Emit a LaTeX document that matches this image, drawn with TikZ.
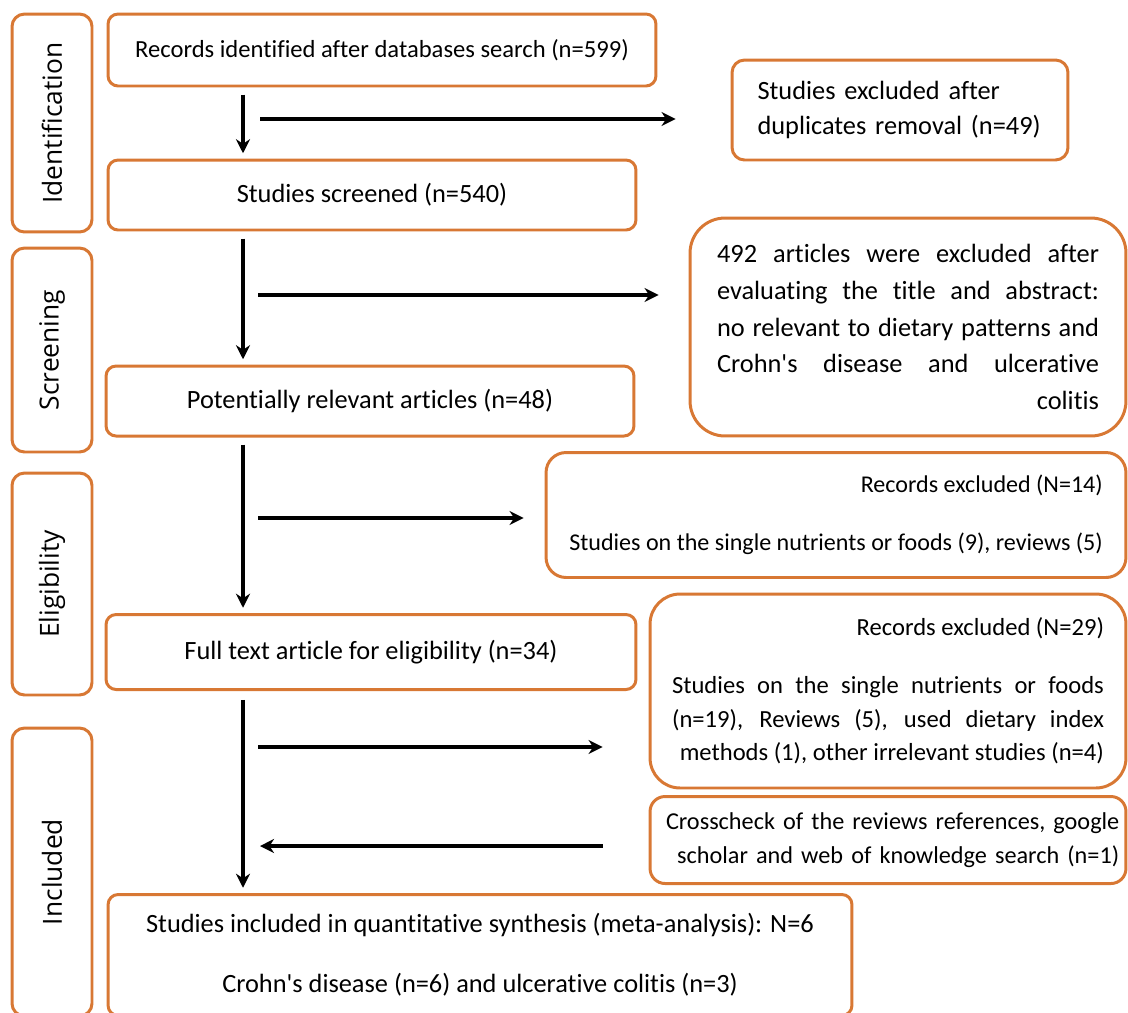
\documentclass[tikz,border=0pt]{standalone}
\usepackage{fontspec}
\setmainfont{Carlito}[Ligatures={NoCommon}]
\newfontfamily\stagefont{Open Sans}
\usetikzlibrary{arrows.meta, calc}
\definecolor{prismaorange}{RGB}{216,120,52}
\tikzstyle{stage} = [rectangle, rounded corners=0.25cm, draw=prismaorange, line width=1.7pt, rotate=90, minimum height=1.6cm, font=\stagefont\fontsize{15}{18}\selectfont]
\tikzstyle{flow} = [rectangle, rounded corners=0.2cm, draw=prismaorange, line width=1.7pt, minimum width=10.56cm, minimum height=1.4cm, font=\fontsize{15}{18}\selectfont]
\tikzstyle{excl} = [rectangle, rounded corners=0.4cm, draw=prismaorange, line width=1.7pt, font=\fontsize{14}{19}\selectfont]
\tikzstyle{arrow} = [line width=1.9pt,->,>={Stealth[length=8pt,width=8pt]}]
\newcommand{\apos}{\textquotesingle}

\begin{document}
\begin{tikzpicture}[x=0.02cm, y=-0.02cm]
\useasboundingbox (0,0) rectangle (1128,1012);

% Stage labels
\node (ident) [stage, minimum width=4.36cm] at (52,123) {Identification};
\node (screen) [stage, minimum width=4.08cm] at (52,350) {Screening};
\node (elig) [stage, minimum width=4.44cm] at (52,584) {Eligibility};
\node (incl) [stage, minimum width=5.76cm] at (52,872) {Included};

% Main flow
\node (records) [flow, minimum width=10.96cm, minimum height=1.44cm, font=\fontsize{14}{17}\selectfont] at (382,50) {Records identified after databases search (n=599)};
\node (screened) [flow] at (372,195) {Studies screened (n=540)};
\node (relevant) [flow] at (370,401) {Potentially relevant articles (n=48)};
\node (fulltext) [flow, minimum width=10.6cm, minimum height=1.5cm] at (371,652) {Full text article for eligibility (n=34)};
\node (included) [flow, minimum width=14.88cm, minimum height=2.42cm, align=center] at (480,955) {Studies included in quantitative synthesis (meta-analysis): N=6\\[16pt]Crohn\apos s disease (n=6) and ulcerative colitis (n=3)};

% Exclusions
\node (dupl) [excl, rounded corners=0.25cm, minimum width=6.72cm, minimum height=2cm, text width=5.7cm, align=left, font=\fontsize{15}{20}\selectfont] at (900,110) {Studies excluded after\\duplicates removal (n=49)};
\node (titleabs) [excl, rounded corners=0.7cm, minimum width=8.72cm, minimum height=4.36cm, text width=7.64cm, align=justify, font=\fontsize{15}{21}\selectfont] at (908,327) {492 articles were excluded after\linebreak evaluating the title and abstract:\linebreak no relevant to dietary patterns and\linebreak Crohn\apos s disease and ulcerative\linebreak\hspace*{\fill}colitis};
\node (single) [excl, minimum width=11.6cm, minimum height=2.5cm, align=right, font=\fontsize{13.7}{19}\selectfont] at (836,515) {Records excluded (N=14)\\[14pt]Studies on the single nutrients or foods (9), reviews (5)};
\node (other) [excl, rounded corners=0.6cm, minimum width=9.52cm, minimum height=3.88cm, text width=8.64cm, align=justify] at (888,691) {\hspace*{\fill}Records excluded (N=29)\par\vspace{14pt}Studies on the single nutrients or foods\linebreak (n=19), Reviews (5), used dietary index\linebreak\hspace*{\fill}methods (1), other irrelevant studies (n=4)};
\node (cross) [excl, rounded corners=0.3cm, minimum width=9.52cm, minimum height=1.74cm, text width=9.25cm, align=right, font=\fontsize{13.8}{19}\selectfont] at (888,840) {Crosscheck of the reviews references, google\\scholar and web of knowledge search (n=1)};

% Arrows
\coordinate (spine) at (243,0);
\draw [arrow, shorten <=4pt, shorten >=3pt] (records.south -| spine) -- (screened.north -| spine);
\draw [arrow, shorten <=4pt, shorten >=3pt] (screened.south -| spine) -- (relevant.north -| spine);
\draw [arrow, shorten <=4pt, shorten >=3pt] (relevant.south -| spine) -- (fulltext.north -| spine);
\draw [arrow, shorten <=5pt, shorten >=3pt] (fulltext.south -| spine) -- (included.north -| spine);

\coordinate (h1) at (260,119);
\coordinate (h2) at (258,295);
\coordinate (h3) at (258,518);
\coordinate (h4) at (258,747);
\coordinate (h5) at (260,846);
\draw [arrow, shorten >=1.1cm] (h1) -- (h1 -| dupl.west);
\draw [arrow, shorten >=0.6cm] (h2) -- (h2 -| titleabs.west);
\draw [arrow, shorten >=0.42cm] (h3) -- (h3 -| single.west);
\draw [arrow, shorten >=0.92cm] (h4) -- (h4 -| other.west);
\draw [arrow, shorten <=0.92cm] (h5 -| cross.west) -- (h5);

\end{tikzpicture}
\end{document}
